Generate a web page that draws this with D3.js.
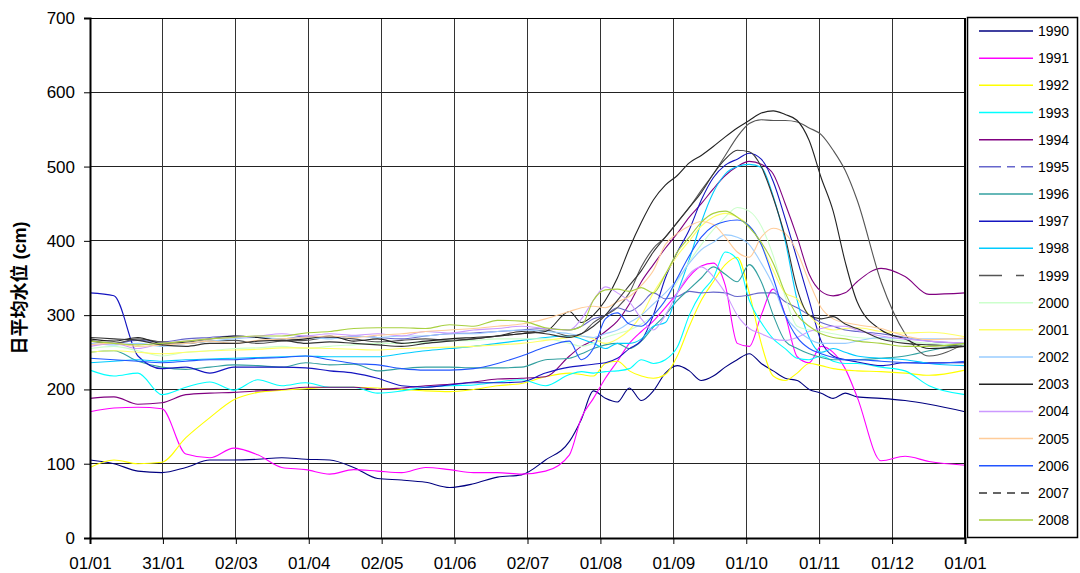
<!DOCTYPE html>
<html>
<head>
<meta charset="utf-8">
<script src="https://cdn.jsdelivr.net/npm/d3@7"></script>
<style>
  body { margin: 0; background: #fff; }
  svg { display: block; font-family: "Liberation Sans", Arial, sans-serif; }
</style>
</head>
<body>
<div id="chart"></div>
<script>
// sample days (day of year), shared by all series
var days = [0,10,20,30,40,50,60,70,80,90,100,110,120,130,140,150,160,170,180,190,200,
  205,210,215,220,225,230,235,240,245,250,255,260,265,270,275,280,285,290,295,300,305,310,315,320,
  330,340,350,365];

var xTickLabels = ["01/01","31/01","02/03","01/04","02/05","01/06","02/07","01/08","01/09","01/10","01/11","01/12","01/01"];
var yTicks = [0,100,200,300,400,500,600,700];

var years = ["1990","1991","1992","1993","1994","1995","1996","1997","1998","1999",
  "2000","2001","2002","2003","2004","2005","2006","2007","2008"];

var colors = ["#000080","#FF00FF","#FFFF00","#00FFFF","#800080","#6666CC","#33A0A0","#1515C0","#00CCFF","#555555",
  "#CCFFCC","#FFFF66","#99CCFF","#222222","#CC99FF","#FFCC99","#2255FF","#333333","#A8D040"];

// legend dash styles (plot lines look solid, like Excel with daily points)
var legendDash = {"1995": "22,6,8,6", "1999": "23,14,8", "2007": "8,6"};

var v1990 = [105,100,90,88,95,105,105,106,108,106,105,95,80,78,75,68,73,82,85,105,130,
  160,198,188,183,202,185,198,222,232,225,212,218,230,240,248,235,225,215,212,200,195,188,195,190,
  188,185,180,170];
var v1991 = [170,175,176,174,113,108,121,112,95,92,86,92,90,88,95,92,88,88,86,90,112,
  162,188,215,238,262,278,292,310,330,352,366,370,340,262,258,300,335,300,244,236,258,250,228,190,
  104,110,103,98];
var v1992 = [95,105,100,102,135,162,186,196,199,201,203,203,202,200,198,197,200,205,208,217,222,
  220,218,235,238,225,218,215,220,245,285,320,345,368,378,330,262,218,212,222,235,232,228,226,225,
  224,222,219,226];
var v1993 = [226,218,222,193,203,210,199,213,205,209,203,203,195,198,203,205,206,210,213,205,220,
  224,222,224,225,228,240,235,240,257,300,330,350,385,375,320,290,268,255,242,240,245,238,235,235,
  230,225,205,193];
var v1994 = [188,190,180,182,193,195,196,198,200,203,203,203,200,202,205,207,210,214,215,217,245,
  258,266,278,292,315,345,368,390,410,432,450,470,488,500,507,503,490,450,405,355,332,326,330,345,
  363,352,328,330];
var v1995 = [265,262,266,264,268,270,272,270,268,272,270,272,270,268,272,275,276,278,280,282,280,
  285,295,300,310,305,315,330,322,325,332,330,331,330,325,327,330,330,318,310,300,290,285,280,278,
  275,270,265,262];
var v1996 = [250,252,238,230,227,230,233,232,230,236,233,234,225,228,230,230,229,229,230,240,242,
  248,255,260,262,255,265,284,300,320,335,350,365,355,345,368,345,300,265,255,248,243,240,240,240,
  242,245,252,262];
var v1997 = [330,326,245,228,230,222,230,230,230,229,225,222,215,205,203,206,209,209,210,222,230,
  232,234,236,242,255,266,300,350,385,415,455,485,502,510,518,510,480,430,375,320,265,245,240,237,
  232,236,236,236];
var v1998 = [236,238,240,238,240,241,242,243,244,245,244,244,244,248,252,255,258,262,266,270,272,
  268,262,255,262,262,268,285,290,330,375,425,465,490,500,503,499,460,400,320,270,250,255,250,245,
  242,240,235,232];
var v1999 = [266,262,268,264,262,265,266,262,265,266,270,268,264,266,268,266,268,272,275,280,272,
  275,290,300,310,330,365,390,405,425,445,468,490,515,540,558,563,562,562,560,552,543,522,495,455,
  345,275,245,262];
var v2000 = [255,258,252,245,250,252,255,256,258,255,258,260,262,262,263,265,266,268,268,268,262,
  258,262,270,275,280,288,300,320,345,372,395,415,432,445,440,420,380,325,285,280,278,275,272,270,
  268,265,262,260];
var v2001 = [250,252,250,248,250,252,253,254,256,256,255,254,253,255,256,257,258,260,262,266,270,
  272,268,262,268,280,300,330,355,380,400,420,432,437,432,420,395,360,330,322,300,285,280,282,283,
  278,276,277,271];
var v2002 = [262,260,262,258,262,265,268,270,268,270,268,272,270,272,272,275,275,278,280,278,275,
  272,270,275,280,290,300,315,330,348,370,388,398,408,405,395,370,340,300,280,268,262,262,262,265,
  270,268,268,268];
var v2003 = [268,265,270,262,264,268,272,270,266,268,272,265,268,262,265,268,270,272,275,278,305,
  290,300,320,350,390,425,455,475,488,505,515,527,540,552,562,572,575,570,562,535,485,440,372,318,
  280,268,255,258];
var v2004 = [258,262,255,262,265,268,270,272,275,272,275,273,275,272,278,276,280,282,285,282,280,
  295,320,338,330,318,295,280,300,330,355,365,352,330,300,282,275,268,266,270,278,282,285,285,280,
  272,268,265,262];
var v2005 = [260,262,258,260,262,265,262,266,268,270,272,270,273,275,278,280,282,285,288,295,305,
  310,312,310,318,325,340,360,395,410,420,426,422,405,385,378,405,417,410,385,345,310,295,290,287,
  282,272,267,269];
var v2006 = [242,240,238,236,238,240,240,242,243,245,240,235,233,228,226,226,228,235,245,257,265,
  240,255,295,303,288,285,300,320,350,380,405,420,426,428,420,395,350,300,270,255,248,243,240,240,
  238,236,235,238];
var v2007 = [270,268,266,260,258,262,262,265,266,262,264,262,260,258,262,265,268,272,278,275,270,
  275,285,300,320,340,360,385,405,425,445,465,490,510,522,520,500,458,405,335,300,295,298,288,282,
  268,262,260,258];
var v2008 = [265,262,260,262,265,268,270,272,272,276,278,282,283,283,282,287,285,293,292,283,280,
  285,320,334,335,332,337,330,355,385,405,425,437,440,432,418,398,370,330,300,285,275,270,268,265,
  262,258,258,262];

var seriesValues = [v1990,v1991,v1992,v1993,v1994,v1995,v1996,v1997,v1998,v1999,
  v2000,v2001,v2002,v2003,v2004,v2005,v2006,v2007,v2008];

var W = 1080, H = 573;
var plot = { left: 90, right: 965, top: 18, bottom: 538 };

var svg = d3.select("#chart").append("svg")
  .attr("width", W)
  .attr("height", H);

var x = d3.scaleLinear().domain([0, 365]).range([plot.left, plot.right]);
var y = d3.scaleLinear().domain([0, 700]).range([plot.bottom, plot.top]);

var xTickVals = xTickLabels.map(function (d, i) { return i * 365 / 12; });

// gridlines
var grid = svg.append("g");
grid.selectAll(".hgrid").data(yTicks).enter().append("line")
  .attr("x1", plot.left).attr("x2", plot.right)
  .attr("y1", function (d) { return y(d); })
  .attr("y2", function (d) { return y(d); })
  .attr("stroke", "#222").attr("stroke-width", 1)
  .attr("shape-rendering", "crispEdges");
grid.selectAll(".vgrid").data(xTickVals).enter().append("line")
  .attr("y1", plot.top).attr("y2", plot.bottom)
  .attr("x1", function (d) { return x(d); })
  .attr("x2", function (d) { return x(d); })
  .attr("stroke", "#333").attr("stroke-width", 1)
  .attr("shape-rendering", "crispEdges");

// series lines
var line = d3.line()
  .x(function (d) { return x(d[0]); })
  .y(function (d) { return y(d[1]); })
  .curve(d3.curveMonotoneX);

svg.append("g").selectAll("path").data(seriesValues).enter().append("path")
  .attr("d", function (vals) {
    return line(vals.map(function (v, i) { return [days[i], v]; }));
  })
  .attr("fill", "none")
  .attr("stroke", function (d, i) { return colors[i]; })
  .attr("stroke-width", 1.1);

// axes
var yAxis = d3.axisLeft(y).tickValues(yTicks).tickSize(6).tickPadding(9);
var gy = svg.append("g").attr("transform", "translate(" + plot.left + ",0)").call(yAxis);
gy.select(".domain").attr("stroke", "#000").attr("stroke-width", 2);
gy.selectAll(".tick line").attr("stroke", "#000");
gy.selectAll(".tick text").attr("font-size", 17).attr("fill", "#000")
  .attr("font-family", "'Liberation Sans', Arial, sans-serif");

var xAxis = d3.axisBottom(x).tickValues(xTickVals)
  .tickFormat(function (d, i) { return xTickLabels[i]; })
  .tickSize(6).tickPadding(13);
var gx = svg.append("g").attr("transform", "translate(0," + plot.bottom + ")").call(xAxis);
gx.select(".domain").attr("stroke", "#000").attr("stroke-width", 2);
gx.selectAll(".tick line").attr("stroke", "#000");
gx.selectAll(".tick text").attr("font-size", 17).attr("fill", "#000")
  .attr("font-family", "'Liberation Sans', Arial, sans-serif");

// plot frame (top and right)
svg.append("line").attr("x1", plot.left).attr("x2", plot.right)
  .attr("y1", plot.top + 0.5).attr("y2", plot.top + 0.5)
  .attr("stroke", "#000").attr("stroke-width", 1.2);
svg.append("line").attr("x1", plot.right).attr("x2", plot.right)
  .attr("y1", plot.top).attr("y2", plot.bottom)
  .attr("stroke", "#000").attr("stroke-width", 2);

// y title
svg.append("text")
  .attr("transform", "translate(26," + ((plot.top + plot.bottom) / 2 + 10) + ") rotate(-90)")
  .attr("text-anchor", "middle")
  .attr("font-size", 18)
  .attr("font-weight", "bold")
  .attr("font-family", "'Liberation Sans', 'Noto Sans CJK SC', sans-serif")
  .text("日平均水位 (cm)");

// legend
var legend = svg.append("g");
legend.append("rect")
  .attr("x", 967.5).attr("y", 17.5).attr("width", 110).attr("height", 520)
  .attr("fill", "#fff").attr("stroke", "#000").attr("stroke-width", 1.5);

var item = legend.selectAll(".item").data(years).enter().append("g")
  .attr("transform", function (d, i) { return "translate(0," + (31 + i * 27.17) + ")"; });
item.append("line")
  .attr("x1", 979).attr("x2", 1033).attr("y1", 0).attr("y2", 0)
  .attr("stroke", function (d, i) { return colors[i]; })
  .attr("stroke-width", 1.5)
  .attr("stroke-dasharray", function (d) { return legendDash[d] || null; });
item.append("text")
  .attr("x", 1038).attr("y", 5)
  .attr("font-size", 14)
  .text(function (d) { return d; });
</script>
</body>
</html>
